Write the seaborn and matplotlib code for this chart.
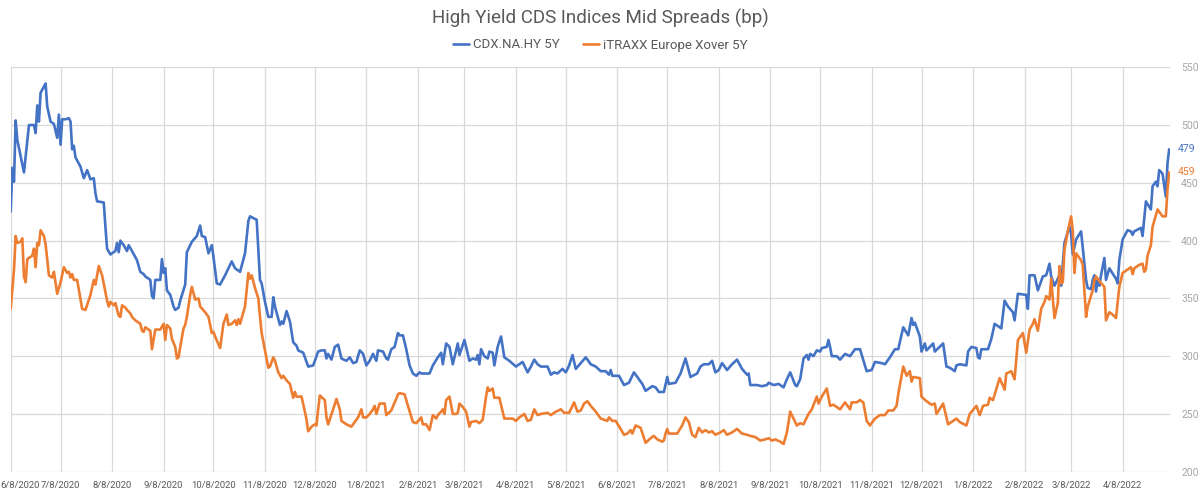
import pandas as pd
import matplotlib.pyplot as plt
import seaborn as sns


# Day offsets are counted from the first date on the chart
start = pd.Timestamp("2020-06-08")

cdx_days = [0, 1, 2, 3, 4, 8, 11, 14, 15, 16, 17, 18, 21, 22, 24, 26, 28, 29, 30, 31,
            33, 35, 36, 37, 38, 39, 42, 44, 46, 48, 50, 51, 52, 56, 57, 58, 60, 63, 64, 65,
            66, 68, 70, 71, 73, 76, 78, 80, 81, 84, 85, 86, 87, 90, 91, 92, 93, 94, 96, 98,
            99, 101, 102, 105, 106, 109, 112, 114, 115, 117, 119, 121, 122, 124, 126, 129, 133, 135, 138, 141,
            143, 144, 148, 149, 150, 151, 153, 155, 157, 158, 159, 162, 163, 164, 166, 168, 170, 172, 173, 176,
            177, 179, 182, 185, 187, 189, 190, 191, 193, 195, 197, 199, 202, 204, 206, 208, 210, 212, 214, 216,
            218, 220, 221, 224, 226, 227, 229, 231, 233, 234, 236, 238, 240, 242, 244, 246, 247, 252, 254, 257,
            259, 260, 262, 264, 266, 269, 270, 273, 276, 278, 280, 281, 282, 283, 285, 287, 288, 290, 291, 293,
            295, 297, 300, 304, 306, 308, 311, 313, 315, 317, 319, 323, 325, 327, 329, 332, 334, 336, 338, 340,
            343, 346, 349, 352, 355, 358, 360, 361, 362, 366, 369, 372, 375, 377, 380, 382, 386, 388, 390, 393,
            395, 396, 400, 403, 406, 409, 413, 415, 417, 420, 422, 424, 426, 428, 431, 434, 437, 440, 443, 444,
            445, 449, 452, 455, 456, 459, 462, 465, 467, 469, 472, 473, 475, 477, 479, 480, 481, 483, 485, 487,
            488, 491, 492, 493, 494, 497, 499, 502, 505, 507, 508, 511, 515, 518, 520, 524, 526, 529, 532, 534,
            537, 540, 542, 543, 544, 547, 548, 550, 551, 555, 556, 561, 563, 565, 568, 569, 571, 575, 576, 578,
            581, 582, 583, 584, 588, 590, 592, 595, 596, 598, 600, 603, 604, 606, 611, 612, 613, 616, 618, 621,
            623, 625, 626, 628, 631, 632, 634, 637, 638, 639, 641, 644, 647, 648, 650, 651, 652, 653, 654, 655,
            656, 658, 659, 661, 665, 666, 667, 669, 672, 674, 675, 676, 680, 681, 683, 686, 687, 689, 690, 691,
            693, 695, 696, 697]
cdx_vals = [425, 463, 451, 504, 487, 459, 500, 500, 493, 517, 503, 528, 536, 516, 503, 501, 489, 509, 483, 505,
            505, 506, 503, 479, 482, 472, 464, 454, 461, 453, 454, 441, 434, 433, 412, 393, 388, 391, 398, 390,
            400, 396, 391, 396, 391, 383, 373, 371, 369, 366, 352, 350, 366, 366, 384, 372, 376, 357, 353, 343,
            340, 342, 348, 362, 390, 399, 404, 413, 404, 403, 389, 396, 386, 363, 362, 370, 382, 376, 373, 389,
            417, 421, 418, 392, 366, 363, 347, 334, 334, 351, 343, 327, 330, 328, 339, 330, 312, 309, 305, 303,
            299, 291, 292, 304, 305, 305, 298, 302, 297, 308, 310, 298, 296, 299, 294, 295, 305, 302, 292, 296,
            302, 296, 305, 304, 298, 297, 306, 308, 320, 318, 318, 306, 292, 285, 283, 286, 285, 285, 292, 299,
            303, 293, 311, 308, 293, 311, 301, 314, 296, 298, 297, 301, 293, 306, 300, 298, 304, 303, 292, 308,
            317, 299, 296, 291, 293, 295, 286, 291, 297, 293, 291, 291, 284, 286, 285, 289, 286, 292, 301, 289,
            294, 299, 293, 291, 287, 287, 284, 288, 283, 283, 275, 277, 286, 282, 276, 270, 274, 273, 269, 269,
            282, 276, 277, 285, 298, 282, 285, 291, 293, 293, 296, 286, 288, 294, 288, 293, 297, 289, 284, 285,
            275, 275, 274, 275, 277, 275, 276, 273, 280, 286, 275, 274, 280, 298, 301, 297, 302, 300, 305, 304,
            307, 308, 314, 308, 300, 300, 297, 302, 300, 304, 306, 306, 287, 288, 295, 294, 293, 299, 306, 306,
            325, 318, 333, 327, 329, 317, 304, 311, 305, 311, 304, 311, 291, 290, 287, 292, 293, 292, 304, 308,
            307, 299, 298, 306, 306, 315, 328, 325, 324, 348, 343, 338, 331, 354, 353, 341, 370, 370, 357, 369,
            370, 380, 369, 361, 370, 361, 398, 412, 406, 388, 401, 408, 366, 359, 358, 366, 370, 356, 366, 361,
            370, 385, 366, 376, 367, 363, 383, 401, 409, 408, 405, 408, 411, 404, 434, 427, 447, 451, 447, 461,
            458, 438, 467, 479]

xover_days = [0, 2, 3, 4, 6, 7, 8, 9, 10, 13, 14, 15, 16, 17, 18, 20, 21, 23, 25, 26,
              28, 30, 32, 34, 35, 36, 37, 38, 40, 43, 45, 48, 50, 51, 53, 55, 58, 59, 60, 62,
              63, 65, 66, 67, 69, 70, 72, 73, 75, 78, 79, 80, 81, 84, 85, 87, 90, 92, 93, 94,
              96, 97, 99, 100, 101, 102, 104, 105, 106, 108, 109, 111, 113, 114, 117, 119, 121, 122, 123, 126,
              128, 130, 131, 133, 135, 136, 137, 138, 141, 143, 144, 145, 147, 149, 150, 151, 153, 155, 156, 158,
              159, 161, 163, 164, 166, 168, 170, 171, 172, 175, 177, 178, 179, 181, 183, 184, 185, 186, 189, 190,
              191, 194, 196, 198, 199, 202, 205, 207, 209, 211, 212, 214, 216, 218, 219, 220, 222, 225, 226, 229,
              231, 232, 233, 234, 237, 239, 242, 244, 247, 248, 250, 252, 254, 256, 257, 259, 260, 261, 262, 264,
              266, 268, 269, 270, 272, 274, 276, 277, 280, 282, 284, 286, 287, 288, 290, 291, 294, 297, 302, 304,
              306, 309, 311, 313, 315, 317, 319, 323, 325, 328, 331, 333, 336, 337, 339, 341, 343, 345, 347, 349,
              352, 355, 359, 360, 362, 364, 367, 369, 371, 373, 374, 376, 379, 382, 385, 387, 389, 392, 393, 394,
              395, 396, 401, 404, 406, 408, 410, 412, 414, 416, 418, 420, 422, 424, 427, 429, 431, 434, 437, 440,
              443, 445, 448, 451, 454, 456, 458, 460, 463, 465, 467, 469, 471, 473, 475, 477, 480, 482, 485, 486,
              488, 491, 493, 495, 497, 499, 502, 505, 506, 509, 511, 513, 515, 517, 520, 523, 526, 528, 531, 533,
              534, 537, 539, 541, 542, 543, 547, 548, 551, 554, 556, 557, 561, 564, 569, 571, 575, 577, 581, 583,
              585, 588, 589, 591, 595, 598, 599, 602, 604, 606, 609, 611, 613, 615, 616, 618, 620, 622, 623, 625,
              626, 628, 630, 631, 632, 633, 634, 636, 638, 639, 640, 641, 644, 645, 647, 648, 651, 652, 653, 655,
              658, 659, 661, 663, 665, 667, 669, 672, 674, 675, 676, 679, 681, 682, 683, 684, 686, 687, 688, 690,
              693, 695, 696, 697]
xover_vals = [341, 375, 404, 398, 399, 402, 369, 364, 384, 387, 393, 377, 398, 396, 409, 404, 397, 370, 368, 373,
              354, 364, 377, 372, 373, 368, 371, 366, 366, 341, 340, 353, 366, 362, 378, 370, 348, 343, 347, 344,
              346, 335, 334, 344, 342, 340, 337, 334, 331, 328, 322, 321, 325, 322, 306, 323, 323, 328, 314, 327,
              324, 315, 308, 298, 299, 308, 324, 327, 334, 353, 360, 349, 350, 343, 338, 334, 320, 321, 317, 307,
              328, 336, 327, 328, 331, 327, 332, 328, 343, 372, 367, 370, 359, 350, 334, 320, 305, 290, 291, 299,
              296, 286, 281, 283, 279, 276, 264, 269, 265, 265, 252, 245, 235, 239, 241, 240, 254, 266, 262, 247,
              241, 254, 263, 254, 244, 241, 239, 243, 247, 254, 247, 247, 250, 254, 257, 250, 259, 259, 249, 253,
              260, 263, 267, 268, 267, 257, 243, 242, 247, 241, 241, 236, 249, 246, 249, 252, 254, 250, 262, 265,
              250, 250, 251, 259, 256, 252, 239, 243, 244, 242, 245, 265, 273, 270, 272, 264, 264, 246, 246, 244,
              247, 250, 244, 245, 254, 249, 250, 251, 249, 252, 254, 251, 251, 254, 260, 252, 253, 259, 261, 257,
              252, 246, 244, 247, 244, 244, 237, 232, 233, 236, 233, 240, 238, 225, 229, 231, 228, 226, 227, 233,
              237, 233, 233, 240, 247, 243, 232, 230, 238, 234, 236, 234, 235, 232, 234, 236, 232, 234, 237, 233,
              232, 231, 230, 227, 228, 229, 227, 228, 226, 224, 234, 252, 246, 240, 242, 241, 250, 254, 265, 259,
              265, 272, 257, 258, 256, 254, 260, 254, 260, 260, 262, 260, 244, 240, 246, 249, 249, 253, 253, 257,
              267, 291, 283, 287, 278, 282, 281, 265, 261, 258, 259, 250, 259, 241, 246, 243, 240, 250, 257, 249,
              257, 258, 264, 262, 281, 271, 285, 287, 280, 314, 320, 303, 323, 328, 332, 322, 341, 347, 352, 349,
              367, 333, 346, 378, 363, 364, 392, 408, 421, 409, 372, 389, 383, 379, 334, 343, 357, 366, 369, 365,
              360, 331, 338, 336, 333, 360, 372, 375, 377, 371, 376, 379, 380, 373, 375, 387, 396, 412, 417, 427,
              421, 421, 444, 459]

series_names = ["CDX.NA.HY 5Y", "iTRAXX Europe Xover 5Y"]
series_colors = ["#4472C4", "#ED7D31"]
y_ticks = [200, 250, 300, 350, 400, 450, 500, 550]
month_ticks = pd.date_range("2020-06-08", "2022-04-08", freq=pd.DateOffset(months=1))
tick_labels = [f"{d.month}/{d.day}/{d.year}" for d in month_ticks]
title = "High Yield CDS Indices Mid Spreads (bp)"

# long-form table for seaborn
df = pd.concat([
    pd.DataFrame({"date": start + pd.to_timedelta(cdx_days, unit="D"),
                  "spread": cdx_vals, "index": series_names[0]}),
    pd.DataFrame({"date": start + pd.to_timedelta(xover_days, unit="D"),
                  "spread": xover_vals, "index": series_names[1]}),
], ignore_index=True)

sns.set_style("white")
plt.rcParams["font.family"] = ["Roboto", "DejaVu Sans"]

fig = plt.figure(figsize=(12, 4.94), dpi=100)
ax = fig.add_axes([0.0089, 0.0451, 0.9661, 0.8187])

sns.lineplot(data=df, x="date", y="spread", hue="index",
             palette=dict(zip(series_names, series_colors)),
             linewidth=1.9, ax=ax)

ax.set_ylim(200, 550)
ax.set_xlim(start, start + pd.Timedelta(days=697.5))
ax.yaxis.tick_right()
ax.set_yticks(y_ticks)
ax.set_xticks(month_ticks)
# first label sits at the left edge of the figure, drawn separately below
ax.set_xticklabels([""] + tick_labels[1:])
ax.set_xlabel("")
ax.set_ylabel("")
ax.grid(True, color="#D9D9D9", linewidth=0.9)
ax.set_axisbelow(True)
for s in ax.spines.values():
    s.set_visible(False)
ax.tick_params(axis="x", length=0, pad=7, labelsize=6.8, labelcolor="#595959")
ax.tick_params(axis="y", length=0, pad=8, labelsize=7.5, labelcolor="#A6A6A6")

ax.annotate(tick_labels[0], xy=(0.0005, 0), xycoords=("figure fraction", "axes fraction"),
            xytext=(0, -7), textcoords="offset points", ha="left", va="top",
            fontsize=6.8, color="#595959", annotation_clip=False)

# legend under the title
handles, labels = ax.get_legend_handles_labels()
ax.get_legend().remove()
fig.legend(handles, labels, loc="center", bbox_to_anchor=(0.5, 1 - 45 / 494), ncol=2,
           frameon=False, fontsize=9.5, handlelength=1.2, handletextpad=0.3,
           columnspacing=1.8, labelcolor="#595959")

fig.text(0.5, 1 - 18 / 494, title, ha="center", va="center", fontsize=13.5, color="#595959")

# last values at the end of each line
for days, vals, c in [(cdx_days, cdx_vals, series_colors[0]), (xover_days, xover_vals, series_colors[1])]:
    ax.annotate(str(vals[-1]), xy=(start + pd.Timedelta(days=days[-1]), vals[-1]),
                xytext=(6, 0), textcoords="offset points", va="center", ha="left",
                fontsize=7.5, color=c, annotation_clip=False)

fig.savefig("out.png", dpi=100)
